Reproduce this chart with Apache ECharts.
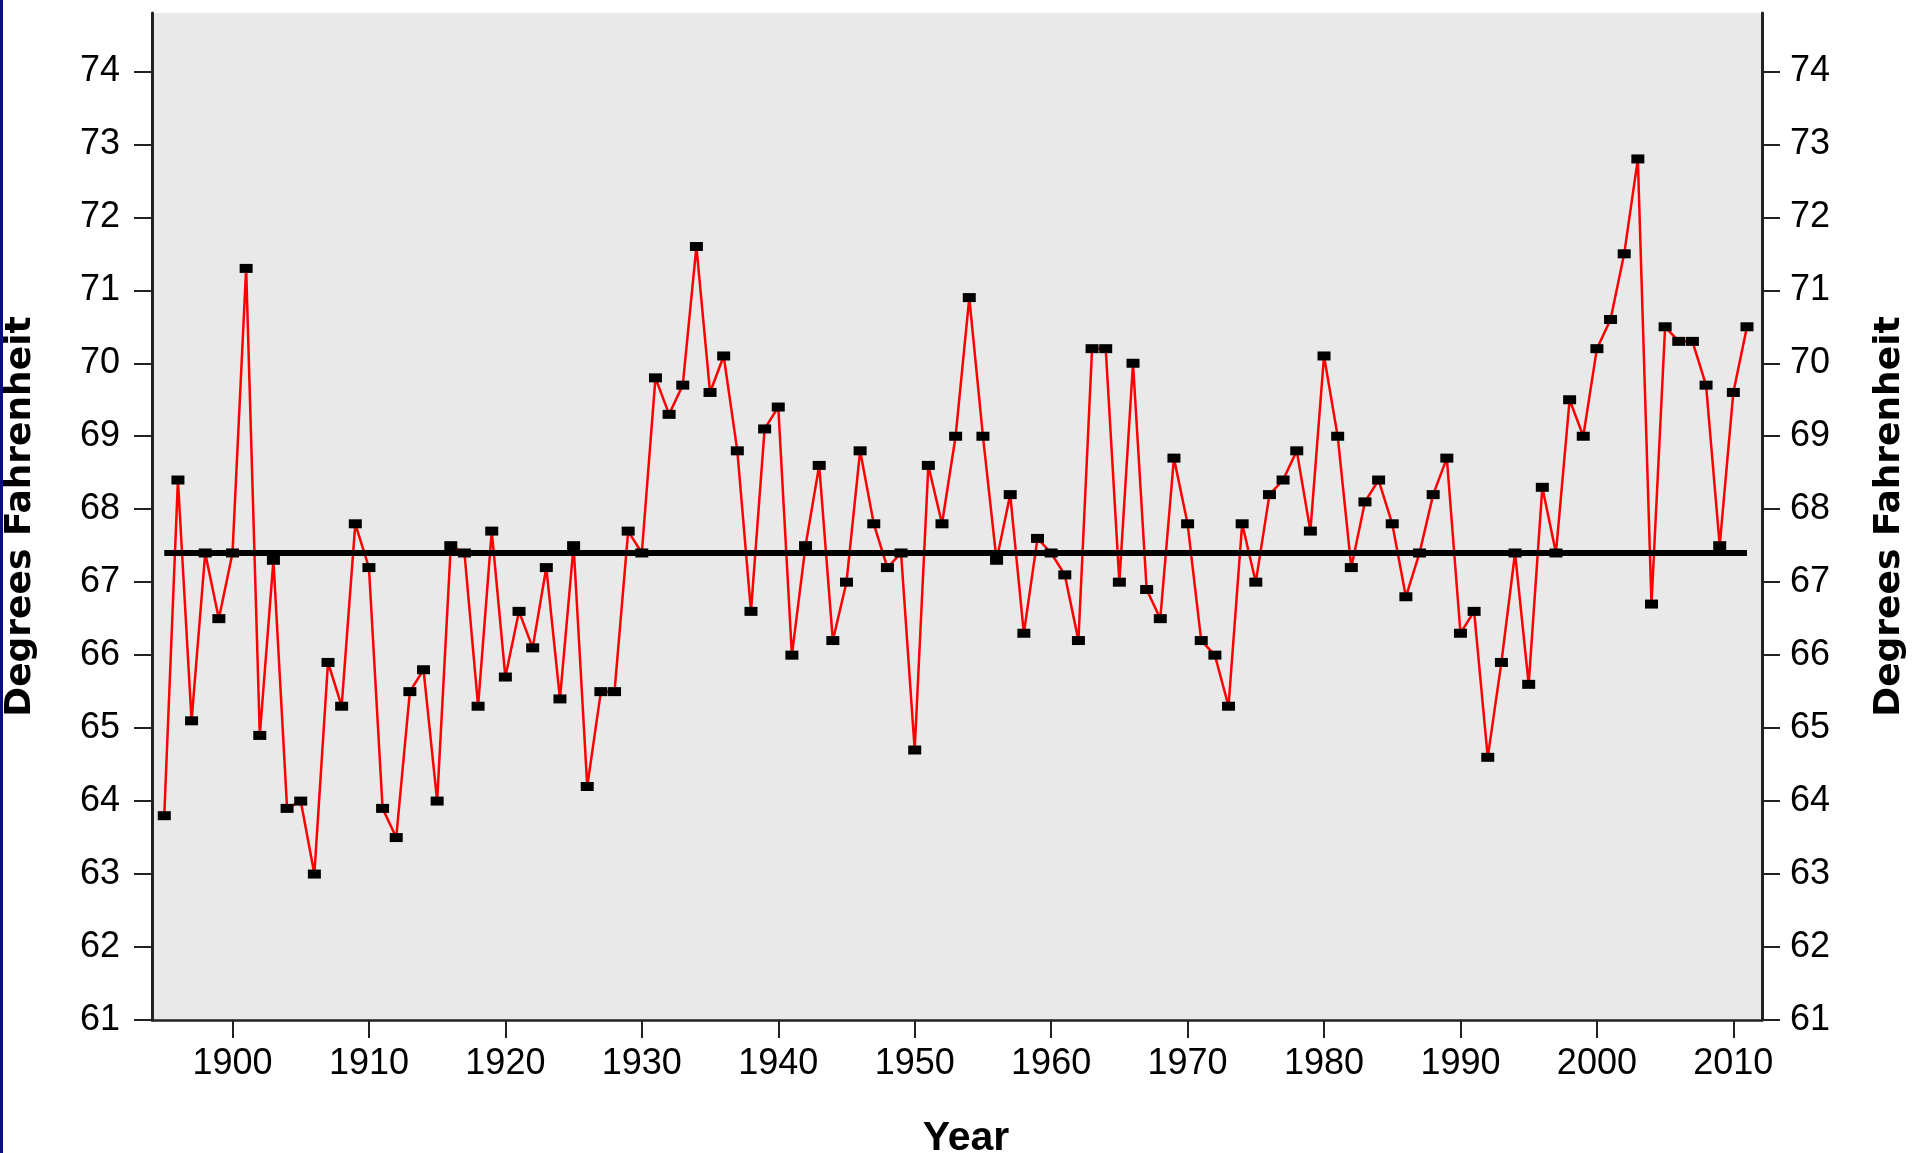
<!DOCTYPE html>
<html>
<head>
<meta charset="utf-8">
<title>Degrees Fahrenheit by Year</title>
<script src="https://cdn.jsdelivr.net/npm/echarts@6/dist/echarts.min.js"></script>
<style>
  html, body { margin: 0; padding: 0; background: #ffffff; }
  #chart { width: 1920px; height: 1153px; }
  #edge { position: absolute; left: 0; top: 0; width: 3px; height: 1153px; background: #0c0c8a; z-index: 10; }
</style>
</head>
<body>
<div id="edge"></div>
<div id="chart"></div>
<script>
// ---- data ----
const firstYear = 1895;
const temps = [
  63.8, 68.4, 65.1, 67.4, 66.5,                         // 1895-1899
  67.4, 71.3, 64.9, 67.3, 63.9, 64.0, 63.0, 65.9, 65.3, 67.8, // 1900-1909
  67.2, 63.9, 63.5, 65.5, 65.8, 64.0, 67.5, 67.4, 65.3, 67.7, // 1910-1919
  65.7, 66.6, 66.1, 67.2, 65.4, 67.5, 64.2, 65.5, 65.5, 67.7, // 1920-1929
  67.4, 69.8, 69.3, 69.7, 71.6, 69.6, 70.1, 68.8, 66.6, 69.1, // 1930-1939
  69.4, 66.0, 67.5, 68.6, 66.2, 67.0, 68.8, 67.8, 67.2, 67.4, // 1940-1949
  64.7, 68.6, 67.8, 69.0, 70.9, 69.0, 67.3, 68.2, 66.3, 67.6, // 1950-1959
  67.4, 67.1, 66.2, 70.2, 70.2, 67.0, 70.0, 66.9, 66.5, 68.7, // 1960-1969
  67.8, 66.2, 66.0, 65.3, 67.8, 67.0, 68.2, 68.4, 68.8, 67.7, // 1970-1979
  70.1, 69.0, 67.2, 68.1, 68.4, 67.8, 66.8, 67.4, 68.2, 68.7, // 1980-1989
  66.3, 66.6, 64.6, 65.9, 67.4, 65.6, 68.3, 67.4, 69.5, 69.0, // 1990-1999
  70.2, 70.6, 71.5, 72.8, 66.7, 70.5, 70.3, 70.3, 69.7, 67.5, // 2000-2009
  69.6, 70.5                                               // 2010-2011
];
const years = temps.map((_, i) => firstYear + i);
const meanValue = 67.4;
const meanYears = [1895, 2011];
const xTickLabels = [1900, 1910, 1920, 1930, 1940, 1950, 1960, 1970, 1980, 1990, 2000, 2010];
const yTickLabels = [61, 62, 63, 64, 65, 66, 67, 68, 69, 70, 71, 72, 73, 74];

// ---- chart ----
const chart = echarts.init(document.getElementById('chart'), null, { renderer: 'canvas' });

const tickFont = { fontFamily: 'Liberation Sans', fontSize: 36, color: '#000' };
const titleFont = { fontFamily: 'DejaVu Sans', fontWeight: 'bold', fontSize: 36, color: '#000' };

function yAxisDef(pos, margin, gap) {
  return {
    type: 'value',
    position: pos,
    min: 61,
    max: 74.8,
    name: 'Degrees Fahrenheit',
    nameLocation: 'middle',
    nameGap: gap,
    nameTextStyle: titleFont,
    axisLine: { show: true, onZero: false, lineStyle: { color: '#222', width: 3 } },
    axisTick: { show: true, inside: false, length: 18, customValues: yTickLabels, lineStyle: { color: '#222', width: 2 } },
    axisLabel: { show: true, margin: margin, customValues: yTickLabels, ...tickFont },
    splitLine: { show: false }
  };
}

const option = {
  backgroundColor: '#ffffff',
  animation: false,
  grid: {
    left: 152, right: 158, top: 13, bottom: 133,
    outerBoundsMode: 'none',
    containLabel: false,
    show: true, backgroundColor: '#e9e9e9', borderWidth: 0
  },
  xAxis: {
    type: 'value',
    min: 1894.1,
    max: 2012.1,
    name: 'Year',
    nameLocation: 'middle',
    nameGap: 98,
    nameTextStyle: { fontFamily: 'Liberation Sans', fontWeight: 'bold', fontSize: 41, color: '#000', padding: [0, 0, 0, 18] },
    axisLine: { show: true, onZero: false, lineStyle: { color: '#222', width: 2.5 } },
    axisTick: { show: true, inside: false, length: 18, customValues: xTickLabels, lineStyle: { color: '#222', width: 2 } },
    axisLabel: { show: true, margin: 26, customValues: xTickLabels, formatter: v => String(v), ...tickFont },
    splitLine: { show: false }
  },
  yAxis: [yAxisDef('left', 32, 113), yAxisDef('right', 28, 110)],
  series: [
    {
      name: 'Temperature',
      type: 'line',
      data: years.map((y, i) => [y, temps[i]]),
      lineStyle: { color: '#ff0000', width: 2.5 },
      itemStyle: { color: '#000000' },
      symbol: 'rect',
      symbolSize: [13, 9],
      showAllSymbol: true,
      z: 3
    },
    {
      name: 'Mean',
      type: 'line',
      data: meanYears.map(y => [y, meanValue]),
      lineStyle: { color: '#000000', width: 6 },
      symbol: 'none',
      z: 4
    }
  ]
};
chart.setOption(option);
</script>
</body>
</html>
